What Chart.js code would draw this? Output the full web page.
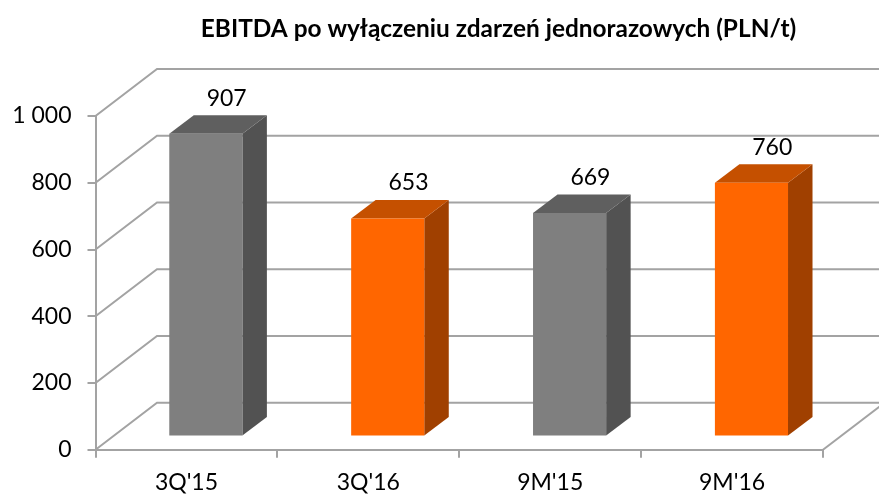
<!DOCTYPE html>
<html>
<head>
<meta charset="utf-8">
<style>html,body{margin:0;padding:0;background:#fff;overflow:hidden}canvas{display:block}</style>
<script src="https://cdn.jsdelivr.net/npm/chart.js@4"></script>
</head>
<body>
<canvas id="c" width="879" height="495"></canvas>
<script>
const categories = ["3Q'15", "3Q'16", "9M'15", "9M'16"];
const values = [907, 653, 669, 760];
const frontColors = ['#7f7f7f', '#ff6600', '#7f7f7f', '#ff6600'];
const topColors = ['#5f5f5f', '#c55000', '#5f5f5f', '#c55000'];
const sideColors = ['#525252', '#a04000', '#525252', '#a04000'];
const yTicks = [0, 200, 400, 600, 800, 1000];
const titleText = 'EBITDA po wyłączeniu zdarzeń jednorazowych (PLN/t)';
const gridColor = '#a3a3a3';
const wall = {dx: 61.5, dy: -47};
const barShift = {dx: 19.4, dy: -13.4};
const depth = {dx: 24.5, dy: -18.5};
const labelShift = {dx: 20.8, dy: -17};
const fontFamily = 'Lato, "Open Sans", sans-serif';

const scene3d = {
  id: 'scene3d',
  afterLayout(chart) {
    const t = chart.titleBlock;
    if (t) { t.left += 87; t.right += 87; }
  },
  beforeDatasetsDraw(chart) {
    const {ctx, chartArea: a, scales: {y}} = chart;
    ctx.save();
    ctx.strokeStyle = gridColor;
    ctx.lineWidth = 2;
    yTicks.forEach(v => {
      const py = y.getPixelForValue(v);
      ctx.beginPath();
      ctx.moveTo(a.left, py);
      ctx.lineTo(a.left + wall.dx, py + wall.dy);
      ctx.lineTo(879, py + wall.dy);
      ctx.stroke();
    });
    const by = y.getPixelForValue(0);
    ctx.beginPath();
    ctx.moveTo(a.right, by);
    ctx.lineTo(a.right + wall.dx, by + wall.dy);
    ctx.stroke();
    ctx.restore();

    const meta = chart.getDatasetMeta(0);
    ctx.save();
    ctx.translate(barShift.dx, barShift.dy);
    meta.data.forEach((el, i) => {
      const l = el.x - el.width / 2, r = el.x + el.width / 2;
      ctx.fillStyle = sideColors[i];
      ctx.beginPath();
      ctx.moveTo(r, el.y);
      ctx.lineTo(r + depth.dx, el.y + depth.dy);
      ctx.lineTo(r + depth.dx, el.base + depth.dy);
      ctx.lineTo(r, el.base);
      ctx.closePath();
      ctx.fill();
      ctx.fillStyle = topColors[i];
      ctx.beginPath();
      ctx.moveTo(l, el.y);
      ctx.lineTo(l + depth.dx, el.y + depth.dy);
      ctx.lineTo(r + depth.dx, el.y + depth.dy);
      ctx.lineTo(r, el.y);
      ctx.closePath();
      ctx.fill();
    });
    ctx.restore();
    ctx.save();
    ctx.translate(barShift.dx, barShift.dy);
  },
  afterDatasetsDraw(chart) {
    const {ctx} = chart;
    ctx.restore();
    const meta = chart.getDatasetMeta(0);
    ctx.save();
    ctx.font = '23px ' + fontFamily;
    ctx.fillStyle = '#000';
    ctx.textAlign = 'center';
    ctx.textBaseline = 'middle';
    meta.data.forEach((el, i) => {
      ctx.fillText(String(values[i]), el.x + barShift.dx + labelShift.dx,
        el.y + barShift.dy + depth.dy + labelShift.dy);
    });
    ctx.restore();
  }
};

new Chart(document.getElementById('c'), {
  type: 'bar',
  data: {
    labels: categories,
    datasets: [{
      data: values,
      backgroundColor: frontColors,
      barPercentage: 0.402,
      categoryPercentage: 1,
      clip: false
    }]
  },
  options: {
    responsive: false,
    animation: false,
    layout: {padding: {left: 0, right: 56, top: 0, bottom: 0}},
    plugins: {
      legend: {display: false},
      tooltip: {enabled: false},
      title: {
        display: true,
        text: titleText,
        color: '#000',
        font: {family: fontFamily, size: 24.4, weight: 'bold', lineHeight: 1.2},
        padding: {top: 14.5, bottom: 72.2}
      }
    },
    scales: {
      x: {
        afterFit(s) { s.height = 45.2; },
        border: {color: gridColor, width: 2},
        grid: {drawOnChartArea: false, color: gridColor, lineWidth: 2, tickLength: 8, offset: true},
        ticks: {color: '#000', font: {family: fontFamily, size: 23}, padding: 11, maxRotation: 0}
      },
      y: {
        min: 0,
        max: 1000,
        afterFit(s) { s.width = 95.5; },
        afterBuildTicks(s) { s.ticks = yTicks.map(v => ({value: v})); },
        border: {color: gridColor, width: 2},
        grid: {drawOnChartArea: false, color: gridColor, lineWidth: 2, tickLength: 8},
        ticks: {
          color: '#000',
          font: {family: fontFamily, size: 23},
          padding: 16,
          callback: v => String(v).replace(/\B(?=(\d{3})+$)/g, ' ')
        }
      }
    }
  },
  plugins: [scene3d]
});
</script>
</body>
</html>
